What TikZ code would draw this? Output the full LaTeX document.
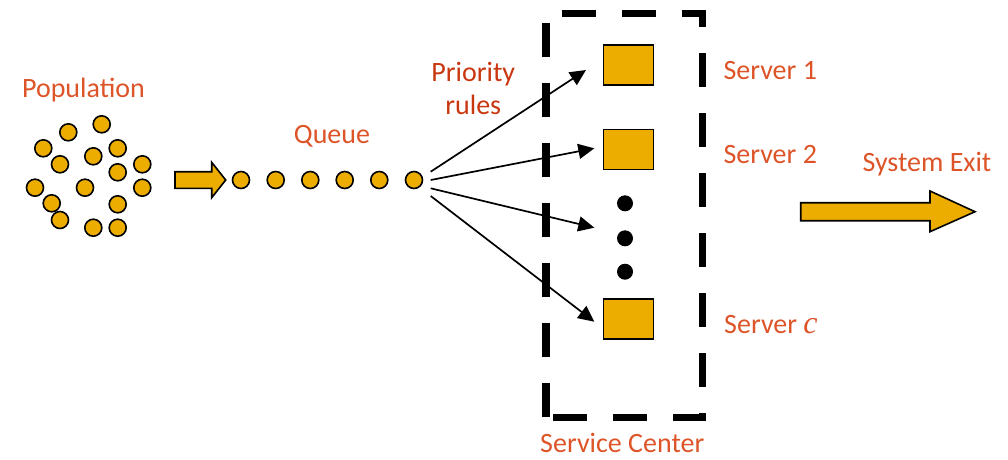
\documentclass[tikz,border=0pt]{standalone}
\usepackage{fontspec}
\setmainfont{Carlito}
\newfontfamily\mathish{Liberation Serif}
\usetikzlibrary{arrows.meta,shapes.arrows}
\definecolor{lbl}{RGB}{221,84,40}
\definecolor{lbldark}{RGB}{200,55,15}
\definecolor{gold}{RGB}{237,172,0}
\begin{document}
\begin{tikzpicture}[x=1pt,y=-1pt,
  person/.style={circle,draw=black,line width=1.6pt,fill=gold,minimum size=17pt,inner sep=0pt},
  serverbox/.style={rectangle,draw=black,line width=1.6pt,fill=gold,minimum width=50pt,minimum height=40pt,inner sep=0pt},
  moredot/.style={circle,fill=black,minimum size=16pt,inner sep=0pt},
  lbltext/.style={text=lbl,font=\fontsize{28}{32}\selectfont,inner sep=0pt,anchor=base},
  flow/.style={-{Triangle[length=16pt,width=15pt]},line width=1.7pt},
  fat/.style={draw=black,line width=1.6pt,fill=gold}
]
\useasboundingbox (0,0) rectangle (1008,459);
% population
\foreach \i/\x/\y in {1/101.7/124.3,2/68.3/132.3,3/43.3/148.3,4/117.7/148.3,5/60/164.3,6/93.3/156.3,7/117.7/172.3,8/142.3/164.3,9/35/187.7,10/85/187.7,11/142.3/187.7,12/51.7/203.3,13/117.7/204.3,14/60/220,15/93.3/227.7,16/117.7/227.7}
  \node[person] (p\i) at (\x,\y) {};
\node[lbltext] (poplbl) at (83.5,97) {Population};
% queue arrow
\draw[fat] (175,171.7) -- (211.7,171.7) -- (211.7,162.3) -- (225.7,180) -- (211.7,197.7) -- (211.7,188.3) -- (175,188.3) -- cycle;
% queue
\foreach \i/\x in {1/241,2/275.7,3/310.3,4/344.7,5/379.3,6/414}
  \node[person] (q\i) at (\x,180) {};
\node[lbltext] (qlbl) at (332,143.3) {Queue};
% service center box
\draw[line width=7.5pt,dash pattern=on 34pt off 26pt] (546,417.3) -- (546,13.3) -- (702.3,13.3) -- (702.3,417.3) -- cycle;
% servers
\node[serverbox] (s1) at (628.3,65) {};
\node[serverbox] (s2) at (628.3,149.3) {};
\node[serverbox] (sc) at (628.3,319) {};
\node[moredot] (d1) at (625,203.3) {};
\node[moredot] (d2) at (625,238.3) {};
\node[moredot] (d3) at (625,271.7) {};
% endpoints
\coordinate (a1) at (586,70);
\coordinate (a2) at (594.3,148.3);
\coordinate (a3) at (594.3,227.7);
\coordinate (a4) at (594.3,321.7);
\draw[flow] (430.7,171.7) -- (a1);
\draw[flow] (430.7,180) -- (a2);
\draw[flow] (430.7,188.3) -- (a3);
\draw[flow] (430.7,196) -- (a4);
% labels
\node[lbltext,text=lbldark] (pr1) at (473.3,81) {Priority};
\node[lbltext,text=lbldark] (pr2) at (473.3,114.3) {rules};
\node[lbltext,anchor=base west] (l1) at (723.3,79) {Server 1};
\node[lbltext,anchor=base west] (l2) at (723.3,163.3) {Server 2};
\node[lbltext,anchor=base west] (lc) at (724,333.3) {Server {\mathish\itshape\fontsize{32}{34}\selectfont c}};
\node[lbltext,anchor=base west] (lsc) at (540,452) {Service Center};
\node[lbltext,anchor=base west] (lex) at (862.3,171.7) {System Exit};
% exit arrow
\draw[fat] (800.7,202.7) -- (930,202.7) -- (930,191) -- (975,211.7) -- (930,231.7) -- (930,220.7) -- (800.7,220.7) -- cycle;
\end{tikzpicture}
\end{document}
